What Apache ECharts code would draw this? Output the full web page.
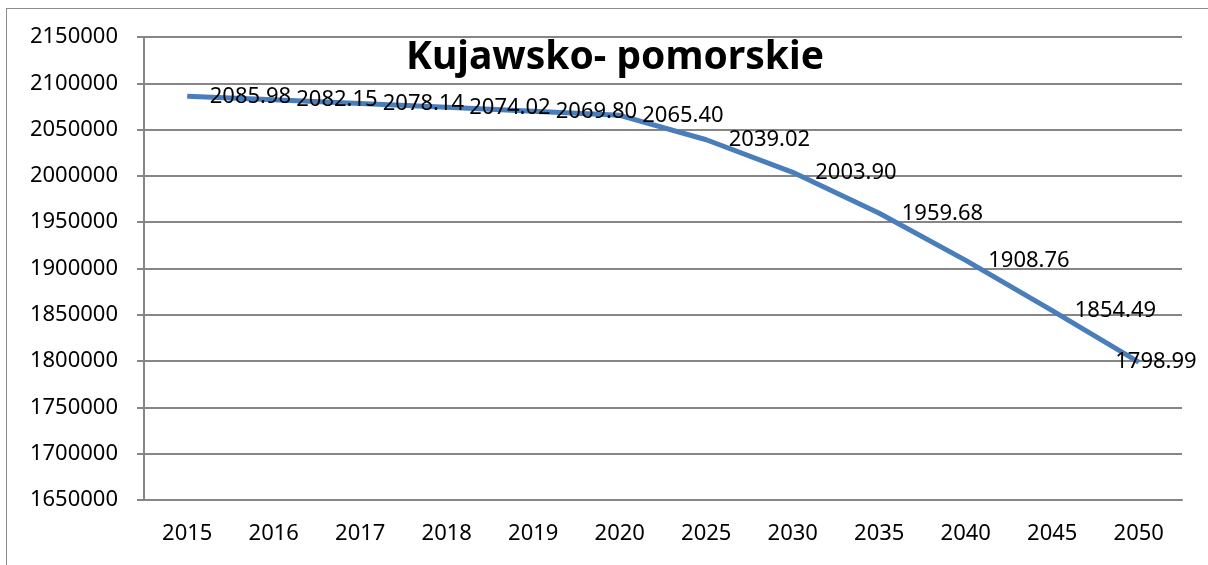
<!DOCTYPE html>
<html>
<head>
    <meta charset="utf-8">
    <title>Kujawsko- pomorskie</title>
    <script src="https://cdn.jsdelivr.net/npm/echarts@6/dist/echarts.min.js"></script>
</head>
<style>
    html, body { margin: 0; padding: 0; background: #fff; }
    #frame {
        position: absolute; left: 6px; top: 8px; width: 1202px; height: 557px;
        border-left: 1px solid #8c8c8c; border-top: 1px solid #8c8c8c;
    }
    #chartmain { position: absolute; left: 0; top: 0; width: 1208px; height: 565px; }
</style>
<body>
    <div id="frame"></div>
    <div id="chartmain"></div>
<script type="text/javascript">
    // lata
    var years = ['2015', '2016', '2017', '2018', '2019', '2020', '2025', '2030', '2035', '2040', '2045', '2050'];
    // ludnosc (tys.)
    var populationK = [2085.98, 2082.15, 2078.14, 2074.02, 2069.80, 2065.40, 2039.02, 2003.90, 1959.68, 1908.76, 1854.49, 1798.99];
    var yMin = 1650000, yMax = 2150000, yStep = 50000;

    var seriesData = populationK.map(function (v, i) {
        var item = { value: Math.round(v * 1000) };
        if (i === populationK.length - 1) {
            item.label = { offset: [-46, 0] };
        }
        return item;
    });

    var font = 'Noto Sans';
    var myChart = echarts.init(document.getElementById('chartmain'));
    myChart.setOption({
        animation: false,
        title: {
            text: 'Kujawsko- pomorskie',
            left: 610,
            top: 33,
            textAlign: 'center',
            textStyle: { fontFamily: font, fontSize: 39, fontWeight: 'bold', color: '#000' }
        },
        grid: { left: 144, right: 26, top: 37, bottom: 65 },
        xAxis: {
            type: 'category',
            data: years,
            boundaryGap: true,
            axisLine: { lineStyle: { color: '#868686', width: 2 } },
            axisTick: { length: 8, lineStyle: { color: '#868686', width: 2 } },
            axisLabel: { color: '#000', fontFamily: font, fontSize: 22, margin: 23 }
        },
        yAxis: {
            type: 'value',
            min: yMin, max: yMax, interval: yStep,
            axisLine: { show: true, lineStyle: { color: '#868686', width: 2 } },
            axisTick: { show: true, length: 7, lineStyle: { color: '#868686', width: 2 } },
            splitLine: { lineStyle: { color: '#868686', width: 2 } },
            axisLabel: {
                color: '#000', fontFamily: font, fontSize: 22, margin: 26,
                formatter: function (v) { return String(v); }
            }
        },
        series: [{
            type: 'line',
            data: seriesData,
            symbol: 'circle',
            symbolSize: 1,
            lineStyle: { color: '#4a7ebb', width: 5 },
            itemStyle: { color: '#4a7ebb' },
            label: {
                show: true,
                position: 'right',
                distance: 22,
                color: '#000',
                fontFamily: font,
                fontSize: 22,
                formatter: function (p) { return (p.value / 1000).toFixed(2); }
            }
        }]
    });
</script>
</body>
</html>
